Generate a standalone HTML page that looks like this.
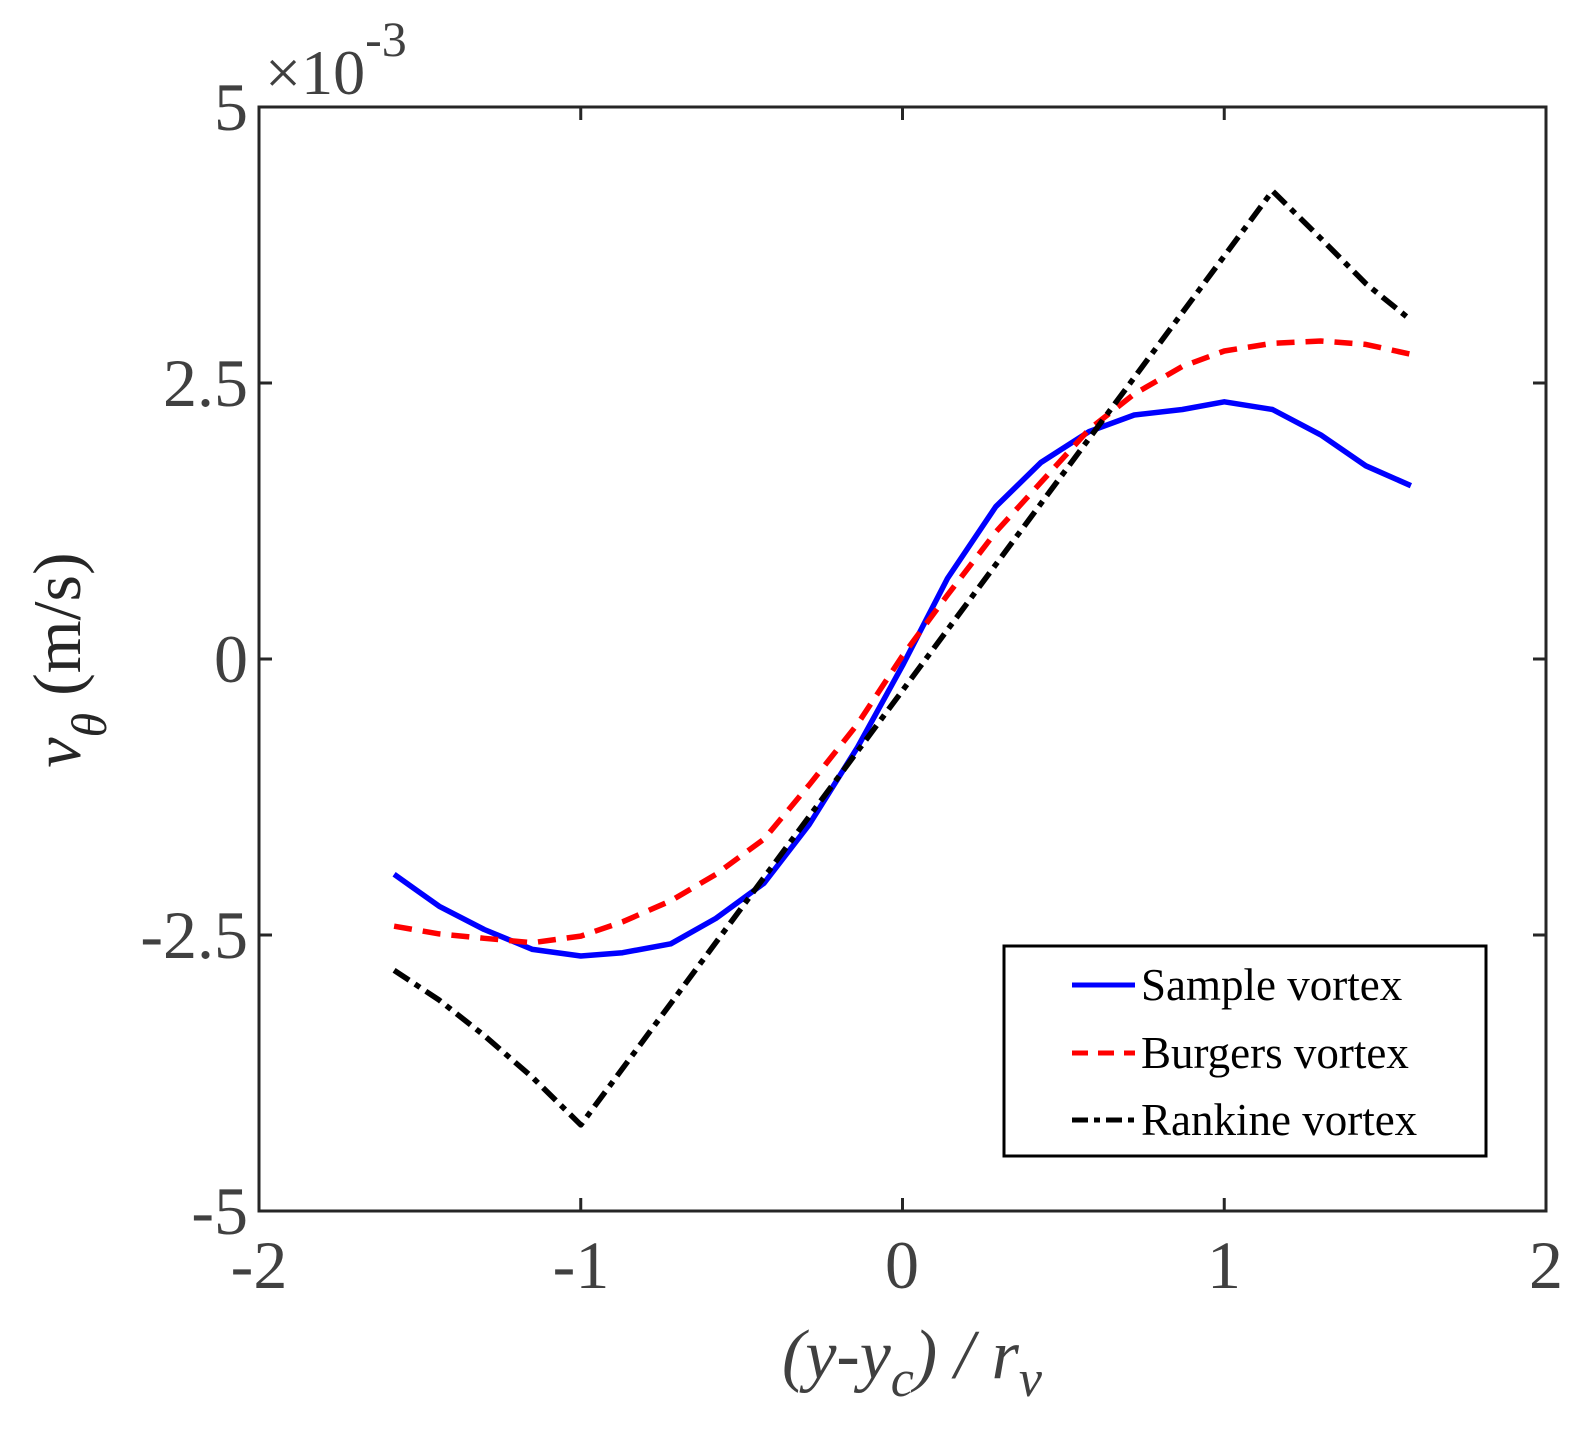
<!DOCTYPE html>
<html><head><meta charset="utf-8"><style>
html,body{margin:0;padding:0;background:#fff;}
svg{display:block;}
text{font-family:"Liberation Serif",serif;}
</style></head><body>
<svg id="s" width="1580" height="1436" viewBox="0 0 1580 1436" xmlns="http://www.w3.org/2000/svg">
<rect width="1580" height="1436" fill="#fff"/>
<g id="plot"></g>
<rect x="259" y="107" width="1287" height="1104" fill="none" stroke="#262626" stroke-width="3"/>
<g id="ticks" stroke="#262626" stroke-width="3"></g>
<g font-size="68" fill="#404040" text-anchor="middle">
<text x="259" y="1288">-2</text>
<text x="581" y="1288">-1</text>
<text x="902" y="1288">0</text>
<text x="1224" y="1288">1</text>
<text x="1546" y="1288">2</text>
</g>
<g font-size="68" fill="#404040" text-anchor="end">
<text x="248" y="130">5</text>
<text x="248" y="406">2.5</text>
<text x="248" y="682">0</text>
<text x="248" y="958">-2.5</text>
<text x="248" y="1234">-5</text>
</g>
<text x="265" y="94" font-size="64" fill="#404040">×10<tspan font-size="50" dy="-38">-3</tspan></text>
<text x="912" y="1378" font-size="70" fill="#404040" text-anchor="middle" font-style="italic">(y-y<tspan font-size="52" dy="18">c</tspan><tspan dy="-18">) / r</tspan><tspan font-size="52" dy="18">v</tspan></text>
<text transform="translate(80,660) rotate(-90)" font-size="68" fill="#262626" text-anchor="middle"><tspan font-style="italic">v</tspan><tspan font-style="italic" font-size="50" dy="26">θ</tspan><tspan dy="-26"> (m/s)</tspan></text>
<rect x="1004" y="946" width="482" height="210" fill="#fff" stroke="#000" stroke-width="3"/>
<line x1="1072" y1="985" x2="1135" y2="985" stroke="#0000ff" stroke-width="5"/>
<line x1="1072" y1="1053" x2="1135" y2="1053" stroke="#ff0000" stroke-width="5" stroke-dasharray="16,10"/>
<line x1="1072" y1="1120" x2="1135" y2="1120" stroke="#000" stroke-width="5" stroke-dasharray="16,6,6,6"/>
<g font-size="45" fill="#000">
<text x="1141" y="1000">Sample vortex</text>
<text x="1141" y="1068">Burgers vortex</text>
<text x="1141" y="1135">Rankine vortex</text>
</g>
</svg>
<script>
var X=function(x){return 259+(x+2)*321.75},Y=function(y){return 659-y*110.4};
var xs=[-1.58,-1.44,-1.3,-1.15,-1.0,-0.87,-0.72,-0.58,-0.43,-0.29,-0.14,0,0.14,0.29,0.43,0.58,0.72,0.87,1.0,1.15,1.3,1.44,1.58];
var blue=[-1.95,-2.24,-2.45,-2.63,-2.69,-2.66,-2.58,-2.35,-2.03,-1.5,-0.8,-0.06,0.73,1.38,1.78,2.06,2.21,2.26,2.33,2.26,2.03,1.75,1.57];
var red=[-2.42,-2.49,-2.53,-2.57,-2.51,-2.38,-2.19,-1.95,-1.63,-1.14,-0.59,0.03,0.58,1.15,1.6,2.08,2.4,2.65,2.79,2.86,2.88,2.85,2.76];
var blk=[[-1.58,-2.82],[-1.44,-3.09],[-1.3,-3.41],[-1.15,-3.79],[-1.0,-4.22],[1.15,4.24],[1.3,3.81],[1.44,3.4],[1.58,3.07]];
function pts(a){return a.map(function(p){return X(p[0]).toFixed(1)+","+Y(p[1]).toFixed(1)}).join(" ")}
var g=document.getElementById("plot"),ns="http://www.w3.org/2000/svg";
function pl(a,c,d){var e=document.createElementNS(ns,"polyline");e.setAttribute("points",pts(a));e.setAttribute("fill","none");e.setAttribute("stroke",c);e.setAttribute("stroke-width","5.5");e.setAttribute("stroke-linejoin","round");if(d)e.setAttribute("stroke-dasharray",d);g.appendChild(e);}
pl(xs.map(function(x,i){return [x,blue[i]]}),"#0000ff");
pl(xs.map(function(x,i){return [x,red[i]]}),"#ff0000","18,11");
pl(blk,"#000","18,7,6,7");
var t=document.getElementById("ticks"),h="";
[-1,0,1].forEach(function(v){var x=X(v);h+='<line x1="'+x+'" y1="1211" x2="'+x+'" y2="1198"/><line x1="'+x+'" y1="107" x2="'+x+'" y2="120"/>';});
[2.5,0,-2.5].forEach(function(v){var y=Y(v);h+='<line x1="259" y1="'+y+'" x2="272" y2="'+y+'"/><line x1="1546" y1="'+y+'" x2="1533" y2="'+y+'"/>';});
t.innerHTML=h;
</script>
</body></html>
